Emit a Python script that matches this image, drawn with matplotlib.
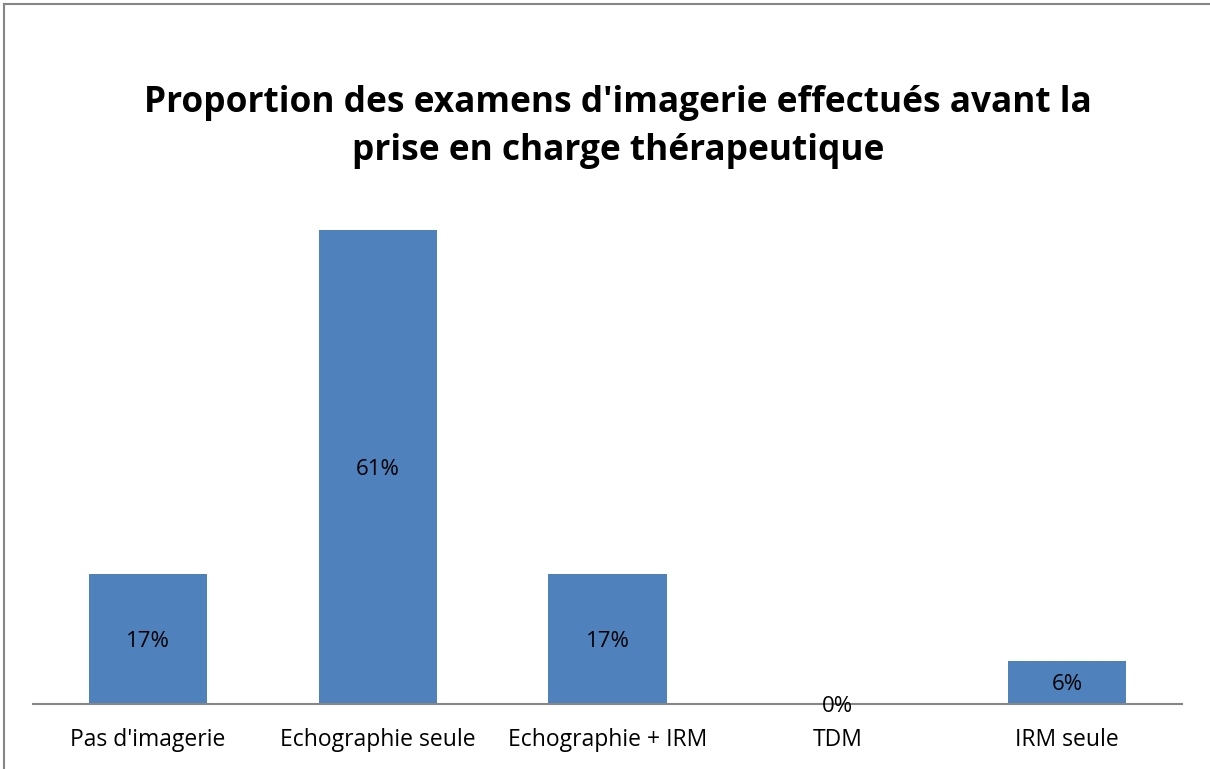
import matplotlib.pyplot as plt
from matplotlib.lines import Line2D

categories = ["Pas d'imagerie", "Echographie seule", "Echographie + IRM", "TDM", "IRM seule"]
values = [16.7, 61.1, 16.7, 0.0, 5.6]
labels = ["17%", "61%", "17%", "0%", "6%"]

plt.rcParams['font.family'] = ['Open Sans', 'DejaVu Sans']

fig = plt.figure(figsize=(12.1, 7.69), dpi=100)
ax = fig.add_axes([33 / 1210, 1 - 704 / 769, (1182 - 33) / 1210, (704 - 161) / 769])

x = range(len(categories))
bars = ax.bar(x, values, width=0.515, color='#4F81BD')
ax.set_xlim(-0.5, len(categories) - 0.5)
ax.set_ylim(0, 70)

for xi, v, lab in zip(x, values, labels):
    ax.annotate(lab, (xi, v / 2), xytext=(0, -1.5), textcoords='offset points',
                ha='center', va='center', fontsize=16, color='black')

ax.set_xticks(list(x))
ax.set_xticklabels(categories, fontsize=16.5)
ax.tick_params(axis='x', length=0, pad=17)
ax.set_yticks([])
for s in ['top', 'right', 'left']:
    ax.spines[s].set_visible(False)
ax.spines['bottom'].set_color('#868686')
ax.spines['bottom'].set_linewidth(1.5)

fig.text(618 / 1210, 1 - 127 / 769, "Proportion des examens d'imagerie effectués avant la\nprise en charge thérapeutique",
         ha='center', va='center', fontsize=25.4, fontweight='bold', linespacing=1.48)

# outer chart border (top and left visible)
fig.add_artist(Line2D([4 / 1210, 4 / 1210], [0, 1 - 4 / 769], transform=fig.transFigure, color='#868686', lw=1.5))
fig.add_artist(Line2D([4 / 1210, 1], [1 - 4 / 769, 1 - 4 / 769], transform=fig.transFigure, color='#868686', lw=1.5))

fig.savefig('out.png', dpi=100)
